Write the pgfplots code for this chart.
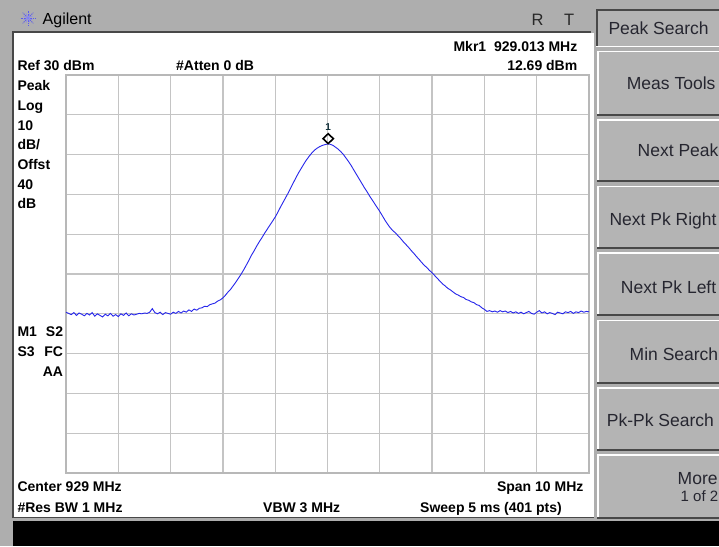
\documentclass[border=0pt]{standalone}
\usepackage{fontspec}
\setmainfont{Liberation Sans}
\usepackage{pgfplots}
\pgfplotsset{compat=1.18}
\usepackage{pgfplotstable}
\usetikzlibrary{shapes.geometric}

\definecolor{panelgray}{RGB}{174,174,174}
\definecolor{btngray}{RGB}{180,180,180}
\definecolor{darkedge}{RGB}{72,72,72}
\definecolor{gridgray}{RGB}{196,196,196}
\definecolor{framegray}{RGB}{184,184,184}
\definecolor{traceblue}{RGB}{38,38,235}
\definecolor{btntext}{RGB}{38,38,48}
\definecolor{logoblue}{RGB}{90,90,235}
\definecolor{mkrtext}{RGB}{20,50,60}
\definecolor{bartext}{RGB}{40,40,40}

% Trace: frequency (MHz) vs. level (dBm)
\pgfplotstableread{
f p
924.00 -29.6
924.05 -29.9
924.10 -30.2
924.15 -29.7
924.20 -30.4
924.25 -29.8
924.30 -30.1
924.35 -30.5
924.40 -29.9
924.45 -30.3
924.50 -29.7
924.55 -30.6
924.60 -30.0
924.65 -30.4
924.70 -30.8
924.75 -30.1
924.80 -30.5
924.85 -29.9
924.90 -30.6
924.95 -30.2
925.00 -30.7
925.05 -30.0
925.10 -30.4
925.15 -29.8
925.20 -30.5
925.25 -30.0
925.30 -30.3
925.35 -30.1
925.40 -29.9
925.45 -30.0
925.50 -29.8
925.55 -29.9
925.60 -29.6
925.65 -28.7
925.70 -29.7
925.75 -30.0
925.80 -29.6
925.85 -30.2
925.90 -29.7
925.95 -29.9
926.00 -30.1
926.05 -29.6
926.10 -29.9
926.15 -29.4
926.20 -29.8
926.25 -29.3
926.30 -29.6
926.35 -29.0
926.40 -29.4
926.45 -28.8
926.50 -29.1
926.55 -28.6
926.60 -28.5
926.65 -28.1
926.70 -28.2
926.75 -27.7
926.80 -27.5
926.85 -27.3
926.90 -26.8
926.95 -26.5
927.00 -26.0
927.05 -25.3
927.10 -24.5
927.15 -23.8
927.20 -22.9
927.25 -22.0
927.30 -21.0
927.35 -20.0
927.40 -18.9
927.45 -17.7
927.50 -16.5
927.55 -15.2
927.60 -14.1
927.65 -12.9
927.70 -11.8
927.75 -10.8
927.80 -9.7
927.85 -8.7
927.90 -7.7
927.95 -6.7
928.00 -5.7
928.05 -4.5
928.10 -3.2
928.15 -2.0
928.20 -0.8
928.25 0.4
928.30 1.7
928.35 3.0
928.40 4.3
928.45 5.5
928.50 6.6
928.55 7.7
928.60 8.7
928.65 9.6
928.70 10.4
928.75 11.1
928.80 11.6
928.85 12.0
928.90 12.3
928.95 12.5
929.013 12.69
929.05 12.6
929.10 12.35
929.15 11.9
929.20 11.4
929.25 10.8
929.30 10.1
929.35 9.2
929.40 8.3
929.45 7.3
929.50 6.2
929.55 5.1
929.60 4.0
929.65 2.9
929.70 1.8
929.75 0.8
929.80 -0.3
929.85 -1.3
929.90 -2.3
929.95 -3.3
930.00 -4.3
930.05 -5.4
930.10 -6.5
930.15 -7.5
930.20 -8.4
930.25 -9.1
930.30 -9.7
930.35 -10.4
930.40 -11.1
930.45 -11.9
930.50 -12.6
930.55 -13.3
930.60 -14.1
930.65 -14.8
930.70 -15.6
930.75 -16.3
930.80 -17.1
930.85 -17.8
930.90 -18.4
930.95 -19.1
931.00 -19.7
931.05 -20.4
931.10 -21.1
931.15 -21.8
931.20 -22.5
931.25 -23.0
931.30 -23.6
931.35 -24.0
931.40 -24.5
931.45 -25.0
931.50 -25.3
931.55 -25.7
931.60 -25.9
931.65 -26.4
931.70 -26.6
931.75 -27.0
931.80 -27.2
931.85 -27.7
931.90 -27.9
931.95 -28.5
932.00 -28.9
932.05 -29.4
932.10 -29.2
932.15 -29.5
932.20 -29.3
932.25 -29.6
932.30 -29.2
932.35 -29.5
932.40 -29.3
932.45 -29.7
932.50 -29.4
932.55 -29.8
932.60 -29.5
932.65 -29.9
932.70 -29.6
932.75 -30.0
932.80 -29.7
932.85 -29.4
932.90 -29.9
932.95 -30.1
933.00 -29.6
933.05 -29.2
933.10 -29.8
933.15 -29.5
933.20 -30.0
933.25 -29.7
933.30 -29.9
933.35 -30.2
933.40 -29.6
933.45 -29.8
933.50 -30.0
933.55 -29.5
933.60 -29.7
933.65 -29.4
933.70 -29.9
933.75 -29.5
933.80 -29.7
933.85 -29.3
933.90 -29.6
933.95 -29.4
934.00 -29.5
}\trace

% soft-key button: top y, bottom y
\newcommand\softkey[2]{%
  \fill[btngray] (597,#1) rectangle (719,#2);
  \draw[white, line width=1.6pt] (597.8,#2) -- (597.8,#1+0.8) -- (719,#1+0.8);
  \draw[darkedge, line width=1.6pt] (597,#2-0.8) -- (719,#2-0.8);
}
\newcommand\scr{\fontsize{14}{16}\selectfont\bfseries}
\newcommand\key{\fontsize{17.5}{19}\selectfont\color{btntext}}

\begin{document}
\begin{tikzpicture}
\useasboundingbox (0pt,0pt) rectangle (719pt,-546pt);

% instrument frame, screen and soft keys
\begin{scope}[x=1pt,y=-1pt]
  \clip (0,0) rectangle (719,546);
  \fill[panelgray] (0,0) rectangle (719,546);
  \fill[white] (14,33) rectangle (594,517);
  \draw[darkedge, line width=1.8pt] (13.2,518) -- (13.2,32.3) -- (591,32.3);
  \draw[darkedge, line width=1pt] (14,517.5) -- (594,517.5);
  \fill[black] (13,521) rectangle (719,546);
  % selected menu title
  \fill[btngray] (596,9) rectangle (719,46);
  \draw[darkedge, line width=1.6pt] (596.8,46) -- (596.8,9.8) -- (719,9.8);
  \draw[white, line width=1.4pt] (596,46.3) -- (719,46.3);
  \softkey{50.5}{116}
  \softkey{119}{182}
  \softkey{185.5}{249}
  \softkey{252}{316}
  \softkey{319.5}{384}
  \softkey{387}{451}
  \softkey{454}{519}
  % logo
  \foreach \a in {0,45,...,315}
    \draw[logoblue, line width=1pt, dash pattern=on 1.4pt off 1pt]
      (28,18) -- ++(\a:7.5);
  \foreach \a in {22.5,67.5,...,337.5}
    \draw[logoblue!70, line width=0.6pt] (28,18) -- ++(\a:5);
\end{scope}

\begin{axis}[
  at={(66pt,-75pt)}, anchor=north west,
  scale only axis, width=523pt, height=398pt,
  xmin=924, xmax=934, ymin=-70, ymax=30,
  xtick={924,925,...,934}, ytick={-70,-60,...,30},
  xticklabels={}, yticklabels={},
  major tick length=0pt,
  grid=major,
  major grid style={draw=gridgray, line width=1.3pt},
  axis line style={draw=framegray, line width=1.8pt},
  clip=false,
]
  \addplot[draw=traceblue, line width=0.9pt] table[x=f, y=p] {\trace};
  % marker 1 at the peak: diamond sitting on the trace, number above it
  \addplot[draw=none, mark=none,
    nodes near coords={},
    nodes near coords style={shape=diamond, draw=black, line width=1.6pt,
      fill=none, inner sep=0pt, minimum width=11pt, minimum height=10.5pt,
      anchor=south, yshift=-0.8pt}]
    coordinates {(929.013,12.69)};
  \addplot[draw=none, mark=none,
    nodes near coords={1},
    nodes near coords style={font=\fontsize{10}{10}\selectfont\bfseries,
      text=mkrtext, anchor=south, yshift=13pt, inner sep=0pt}]
    coordinates {(929.013,12.69)};
\end{axis}

% annotations
\begin{scope}[x=1pt,y=-1pt]
  \clip (0,0) rectangle (719,546);
  \node[anchor=base west, inner sep=0pt, font=\fontsize{16}{18}\selectfont] at (42.5,24) {Agilent};
  \node[anchor=base west, inner sep=0pt, font=\fontsize{16.5}{18}\selectfont, text=bartext] at (531.5,25) {R};
  \node[anchor=base west, inner sep=0pt, font=\fontsize{16.5}{18}\selectfont, text=bartext] at (564,25) {T};

  \node[anchor=base east, inner sep=0pt, font=\scr] at (577.5,51.5) {Mkr1\ \ 929.013 MHz};
  \node[anchor=base east, inner sep=0pt, font=\scr] at (577.5,70.7) {12.69 dBm};
  \node[anchor=base west, inner sep=0pt, font=\scr] at (17.3,70.7) {Ref 30 dBm};
  \node[anchor=base west, inner sep=0pt, font=\scr] at (176,70.7) {\#Atten 0 dB};

  \node[anchor=base west, inner sep=0pt, font=\scr] at (17.3,90.7) {Peak};
  \node[anchor=base west, inner sep=0pt, font=\scr] at (17.3,110.4) {Log};
  \node[anchor=base west, inner sep=0pt, font=\scr] at (17.3,130.1) {10};
  \node[anchor=base west, inner sep=0pt, font=\scr] at (17.3,149.8) {dB/};
  \node[anchor=base west, inner sep=0pt, font=\scr] at (17.3,169.5) {Offst};
  \node[anchor=base west, inner sep=0pt, font=\scr] at (17.3,189.2) {40};
  \node[anchor=base west, inner sep=0pt, font=\scr] at (17.3,208.9) {dB};

  \node[anchor=base west, inner sep=0pt, font=\scr] at (17.3,336.5) {M1};
  \node[anchor=base east, inner sep=0pt, font=\scr] at (63.3,336.5) {S2};
  \node[anchor=base west, inner sep=0pt, font=\scr] at (17.3,356.5) {S3};
  \node[anchor=base east, inner sep=0pt, font=\scr] at (63.3,356.5) {FC};
  \node[anchor=base east, inner sep=0pt, font=\scr] at (63.3,376.5) {AA};

  \node[anchor=base west, inner sep=0pt, font=\scr] at (17.3,491.5) {Center 929 MHz};
  \node[anchor=base east, inner sep=0pt, font=\scr] at (583.6,491.5) {Span 10 MHz};
  \node[anchor=base west, inner sep=0pt, font=\scr] at (17.3,512.5) {\#Res BW 1 MHz};
  \node[anchor=base west, inner sep=0pt, font=\scr] at (263,512.5) {VBW 3 MHz};
  \node[anchor=base west, inner sep=0pt, font=\scr] at (420,512.5) {Sweep 5 ms (401 pts)};

  \node[anchor=base west, inner sep=0pt, font=\key] at (608.3,34) {Peak Search};
  \node[anchor=base west, inner sep=0pt, font=\key] at (626.7,89.3) {Meas Tools};
  \node[anchor=base west, inner sep=0pt, font=\key] at (637.5,156.7) {Next Peak};
  \node[anchor=base west, inner sep=0pt, font=\key] at (609.3,225) {Next Pk Right};
  \node[anchor=base west, inner sep=0pt, font=\key] at (620.7,293) {Next Pk Left};
  \node[anchor=base west, inner sep=0pt, font=\key] at (629.5,360.7) {Min Search};
  \node[anchor=base west, inner sep=0pt, font=\key] at (606.7,426) {Pk-Pk Search};
  \node[anchor=base west, inner sep=0pt, font=\key] at (677.5,484) {More};
  \node[anchor=base west, inner sep=0pt, font=\fontsize{15}{16}\selectfont\color{btntext}] at (680.5,501.7) {1 of 2};
\end{scope}
\end{tikzpicture}
\end{document}
